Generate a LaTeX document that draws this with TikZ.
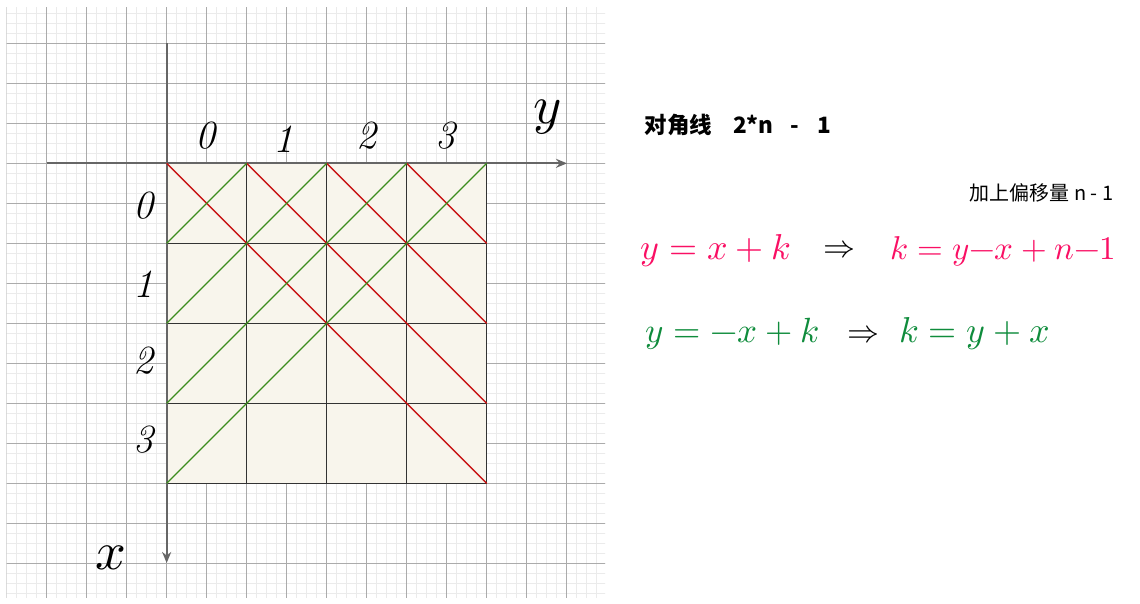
\documentclass[tikz,border=0pt]{standalone}
\usepackage{fontspec}
\usepackage{unicode-math}
\setmathfont{latinmodern-math.otf}
\newfontfamily\cjk{Noto Sans CJK SC}
\usetikzlibrary{arrows.meta}
\definecolor{cream}{HTML}{F8F5EC}
\definecolor{minorgrid}{HTML}{EBEBEB}
\definecolor{majorgrid}{HTML}{ABABAB}
\definecolor{diagred}{HTML}{C81414}
\definecolor{diaggreen}{HTML}{3C8C1E}
\definecolor{penpink}{HTML}{FA0F64}
\definecolor{pengreen}{HTML}{0F8C3C}
\begin{document}
\begin{tikzpicture}[>={Stealth[length=11pt,width=9pt]}, x=1pt, y=-1pt,
  cell/.style={draw=black!80, fill=cream, line width=1pt, minimum size=80pt, inner sep=0pt, outer sep=0pt},
  axis/.style={draw=black!60, line width=1.8pt},
  redline/.style={draw=diagred, line width=1.3pt},
  greenline/.style={draw=diaggreen, line width=1.3pt},
  hand/.style={font=\fontsize{40}{40}\selectfont\itshape},
  eq/.style={anchor=base west, font=\fontsize{36}{36}\selectfont},
  imply/.style={anchor=base west, font=\fontsize{32}{32}\selectfont}]
\useasboundingbox (0,0) rectangle (1140,603);
\fill[white] (0,0) rectangle (1140,603);
% grid paper
\begin{scope}
\clip (6.7,7) rectangle (605,597);
\foreach \i in {0,...,60} \draw[minorgrid, line width=0.8pt] (6.67+10*\i,0) -- (6.67+10*\i,603);
\foreach \i in {0,...,60} \draw[minorgrid, line width=0.8pt] (0,3.33+10*\i) -- (610,3.33+10*\i);
\foreach \i in {0,...,15} \draw[majorgrid, line width=0.9pt] (6.67+40*\i,0) -- (6.67+40*\i,603);
\foreach \i in {0,...,15} \draw[majorgrid, line width=0.9pt] (0,3.33+40*\i) -- (610,3.33+40*\i);
\end{scope}
% cells
\foreach \i in {0,...,3}
  \foreach \j in {0,...,3}
    \node[cell] (c\i\j) at (206.67+80*\j, 203.33+80*\i) {};
% axes
\coordinate (ytail) at (46.7,163.33);
\coordinate (yhead) at (567,163.33);
\coordinate (xtail) at (166.67,43.3);
\coordinate (xhead) at (166.67,563);
\draw[axis,->] (ytail) -- (yhead);
\draw[axis,->] (xtail) -- (xhead);
% diagonals
\draw[redline] (c00.north west) -- (c33.south east);
\draw[redline] (c01.north west) -- (c23.south east);
\draw[redline] (c02.north west) -- (c13.south east);
\draw[redline] (c03.north west) -- (c03.south east);
\draw[greenline] (c00.south west) -- (c00.north east);
\draw[greenline] (c10.south west) -- (c01.north east);
\draw[greenline] (c20.south west) -- (c02.north east);
\draw[greenline] (c30.south west) -- (c03.north east);
% index labels
\node[hand] (col0) at (205,136) {0};
\node[hand] (col1) at (283,139) {1};
\node[hand] (col2) at (366,136) {2};
\node[hand] (col3) at (445,136) {3};
\node[hand] (row0) at (143,206) {0};
\node[hand] (row1) at (143,284) {1};
\node[hand] (row2) at (143,361) {2};
\node[hand] (row3) at (143,440) {3};
\node[font=\fontsize{54}{54}\selectfont] (ylab) at (547,117) {$y$};
\node[font=\fontsize{54}{54}\selectfont] (xlab) at (111,558) {$x$};
% notes
\node[anchor=west, font=\cjk\bfseries\fontsize{22.5}{22.5}\selectfont] (title) at (641,125) {对角线\hspace{21pt}2*n\hspace{17pt}-\hspace{18pt}1};
\node[anchor=east, font=\cjk\fontsize{20}{20}\selectfont] (offset) at (1117,193) {加上偏移量 n - 1};
\node[eq, text=penpink] (eqa) at (637,259) {$y = x + k$};
\node[imply] (impa) at (820,257) {$\Rightarrow$};
\node[eq, text=penpink, font=\fontsize{33}{33}\selectfont] (eqb) at (887,259) {$k = y{-}x + n{-}1$};
\node[eq, text=pengreen, font=\fontsize{35}{35}\selectfont] (eqc) at (642,342) {$y = -x + k$};
\node[imply] (impb) at (844,342) {$\Rightarrow$};
\node[eq, text=pengreen] (eqd) at (896,342) {$k = y + x$};
\end{tikzpicture}
\end{document}
